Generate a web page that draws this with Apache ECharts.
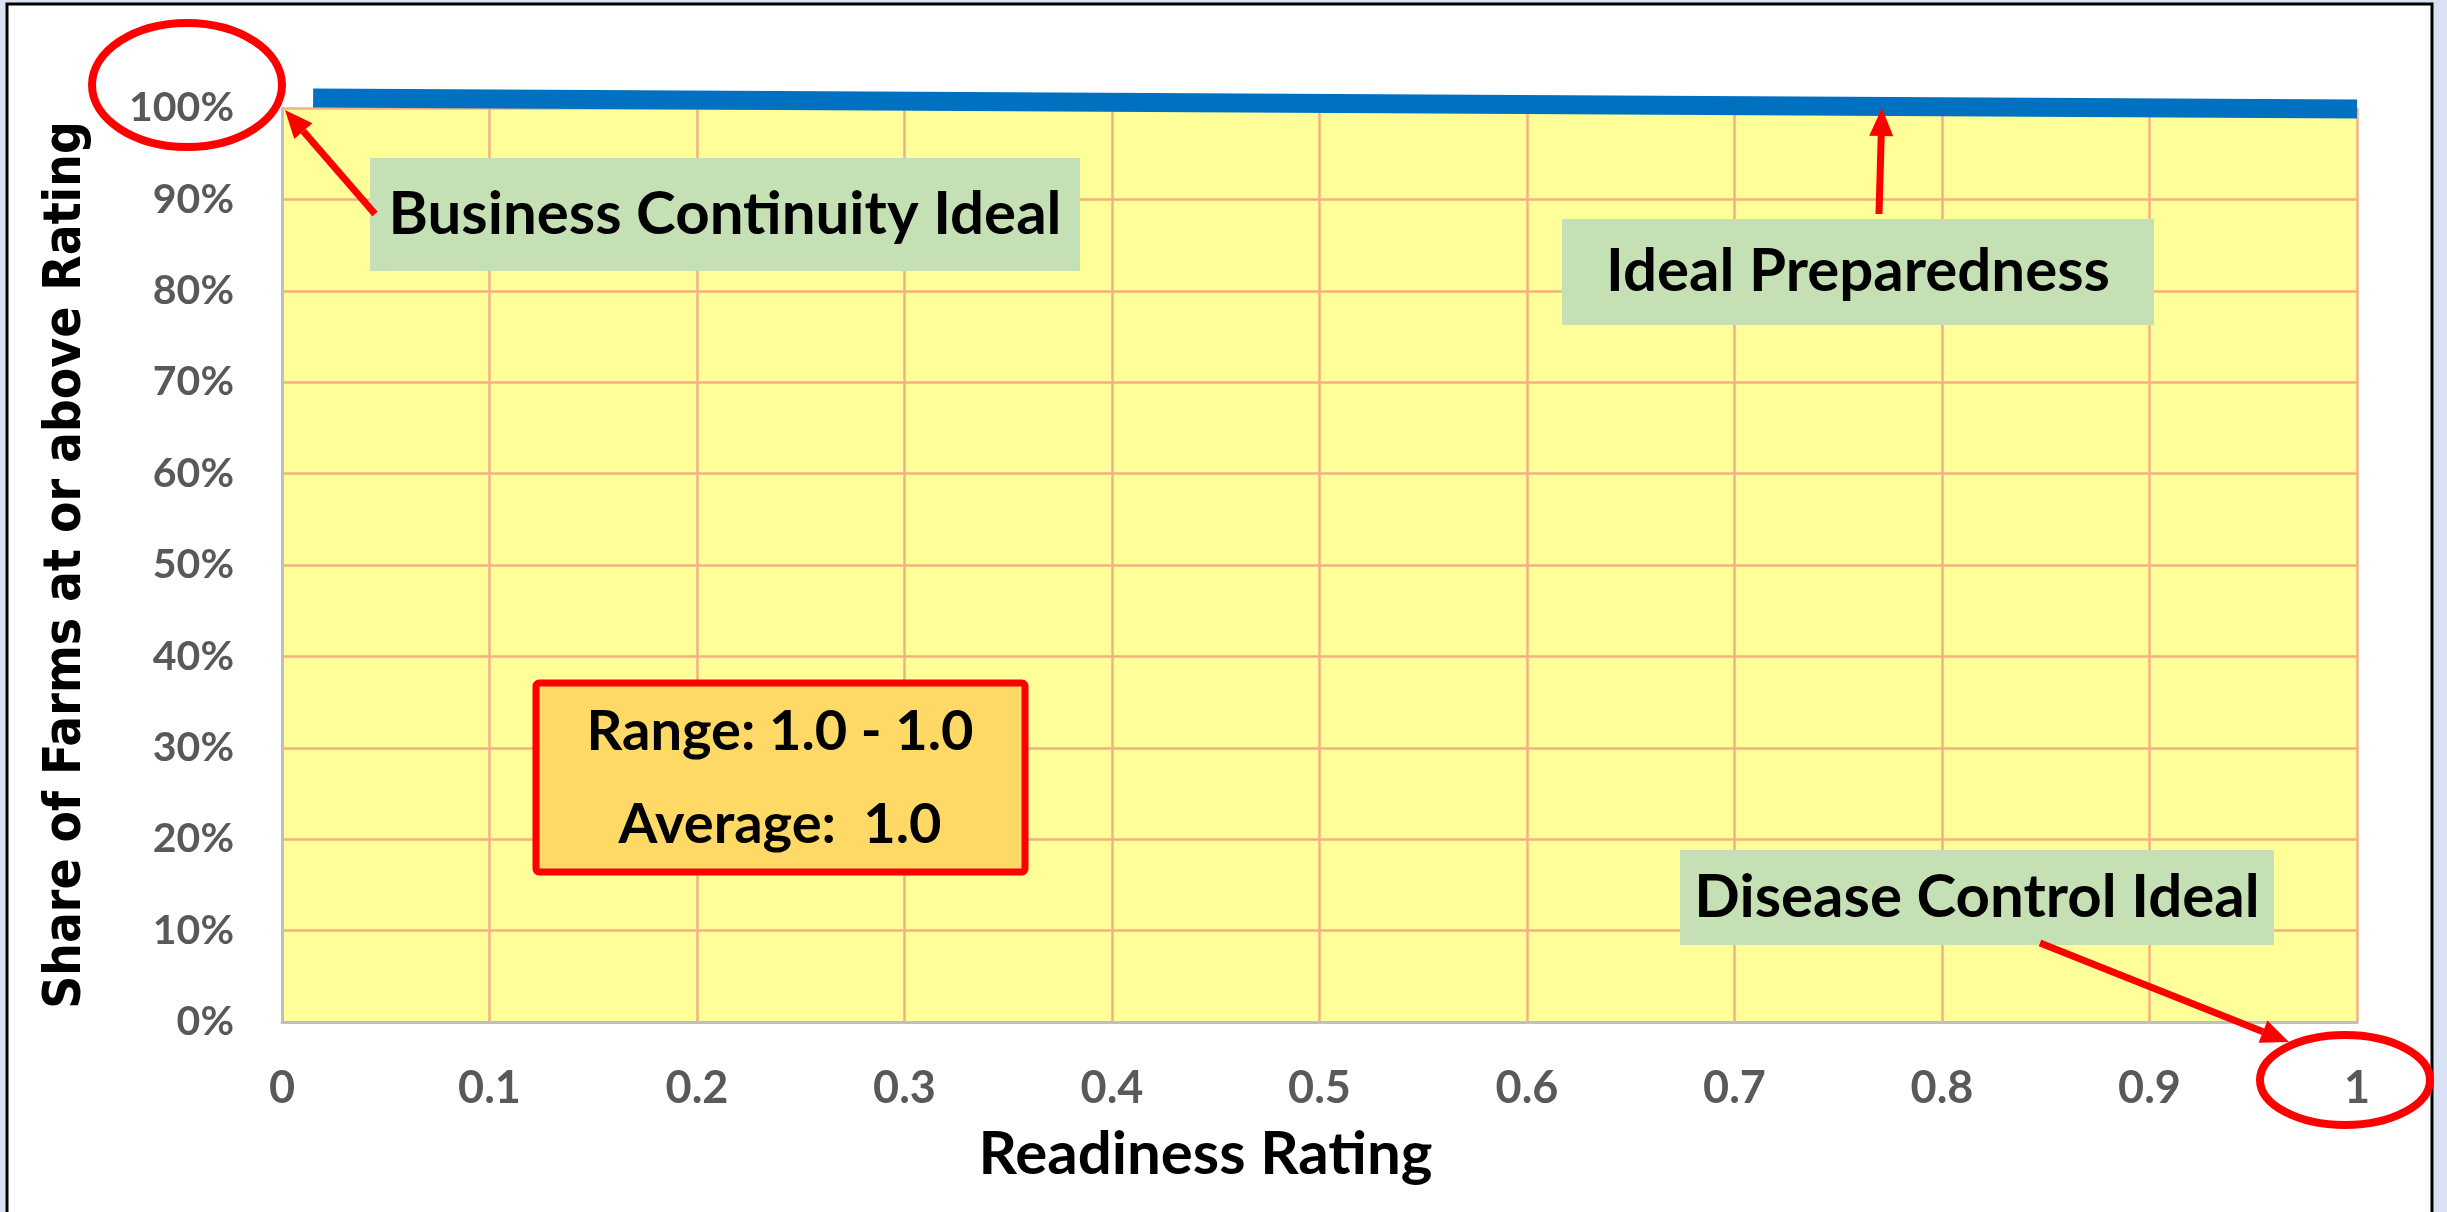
<!DOCTYPE html>
<html>
<head>
<meta charset="utf-8">
<script src="https://cdn.jsdelivr.net/npm/echarts@6/dist/echarts.min.js"></script>
<style>
  html, body { margin: 0; padding: 0; background: #dae3f3; }
  #chart { width: 2447px; height: 1212px; }
</style>
</head>
<body>
<div id="chart"></div>
<script>
// readiness curve (x = rating, y = share of farms at or above rating)
const ratingX = [0.015, 1.0];
const shareY = [1.011, 0.999];

const xAxisTitle = 'Readiness Rating';
const yAxisTitle = 'Share of Farms at or above Rating';
const statLines = ['Range: 1.0 - 1.0', 'Average:  1.0'];

const RED = '#ff0000';
const GREEN_BOX = '#c5e0b4';
const TEXT_FONT = 'bold 60px Lato';

const chart = echarts.init(document.getElementById('chart'));

const arrow = (x1, y1, x2, y2) => {
  const a = Math.atan2(y2 - y1, x2 - x1);
  const len = 28;
  const half = 12;
  const bx = x2 - len * Math.cos(a);
  const by = y2 - len * Math.sin(a);
  return [
    { type: 'line', z: 100, shape: { x1, y1, x2: bx, y2: by }, style: { stroke: RED, lineWidth: 7 } },
    {
      type: 'polygon', z: 100,
      shape: { points: [[x2, y2], [bx - half * Math.sin(a), by + half * Math.cos(a)], [bx + half * Math.sin(a), by - half * Math.cos(a)]] },
      style: { fill: RED },
    },
  ];
};

const labelBox = (x, y, w, h, text) => [
  { type: 'rect', z: 90, shape: { x, y, width: w, height: h }, style: { fill: GREEN_BOX } },
  {
    type: 'text', z: 95, x: x + w / 2, y: y + h / 2,
    style: { text, font: TEXT_FONT, fill: '#000', align: 'center', verticalAlign: 'middle', textAlign: 'center', textVerticalAlign: 'middle' },
  },
];

const centerText = (cx, cy, text) => ({
  type: 'text', z: 95, x: cx, y: cy,
  style: { text, font: 'bold 56px Lato', fill: '#000', align: 'center', verticalAlign: 'middle', textAlign: 'center', textVerticalAlign: 'middle' },
});

chart.setOption({
  backgroundColor: '#dae3f3',
  animation: false,
  grid: {
    left: 282,
    right: 90,
    top: 108,
    bottom: 190,
    show: true,
    backgroundColor: '#ffff99',
    borderWidth: 0,
    outerBoundsMode: 'none',
  },
  xAxis: {
    type: 'value',
    min: 0,
    max: 1,
    interval: 0.1,
    name: xAxisTitle,
    nameLocation: 'middle',
    nameGap: 103,
    nameTextStyle: { fontFamily: 'Lato', fontWeight: 'bold', fontSize: 60, color: '#000', padding: [0, 228, 0, 0] },
    axisLine: { show: true, lineStyle: { color: '#bfbfbf', width: 3 } },
    axisTick: { show: false },
    axisLabel: { margin: 44, fontFamily: 'Lato', fontWeight: 'bold', fontSize: 45, color: '#595959' },
    splitLine: { show: true, lineStyle: { color: '#f4b183', width: 2.5 } },
  },
  yAxis: {
    type: 'value',
    min: 0,
    max: 1,
    interval: 0.1,
    name: yAxisTitle,
    nameLocation: 'middle',
    nameRotate: 90,
    nameGap: 190,
    nameTextStyle: { fontFamily: "'DejaVu Sans Condensed', 'DejaVu Sans'", fontWeight: 'bold', fontSize: 51, color: '#000' },
    axisLine: { show: true, lineStyle: { color: '#bfbfbf', width: 3 } },
    axisTick: { show: false },
    axisLabel: {
      margin: 48, fontFamily: 'Lato', fontWeight: 'bold', fontSize: 41, color: '#595959',
      formatter: (v) => Math.round(v * 100) + '%',
    },
    splitLine: { show: true, lineStyle: { color: '#f4b183', width: 2.5 } },
  },
  series: [
    {
      name: 'Ideal Preparedness',
      type: 'line',
      data: ratingX.map((x, i) => [x, shareY[i]]),
      showSymbol: false,
      symbol: 'none',
      clip: false,
      lineStyle: { color: '#0070c0', width: 19 },
      z: 5,
    },
  ],
  graphic: [
    // outer frame
    { type: 'rect', z: -10, shape: { x: 7, y: 4, width: 2425, height: 1240 }, style: { fill: '#fff', stroke: '#000', lineWidth: 3 } },
    ...labelBox(370, 158, 710, 113, 'Business Continuity Ideal'),
    ...labelBox(1562, 219, 592, 106, 'Ideal Preparedness'),
    ...labelBox(1680, 850, 594, 95, 'Disease Control Ideal'),
    { type: 'rect', z: 90, shape: { x: 536, y: 683, width: 489, height: 189, r: 3 }, style: { fill: '#ffd966', stroke: RED, lineWidth: 7 } },
    centerText(780, 732, statLines[0]),
    centerText(780, 825, statLines[1]),
    ...arrow(375, 214, 285, 110),
    ...arrow(1879, 214, 1882, 108),
    ...arrow(2040, 943, 2289, 1042),
    { type: 'ellipse', z: 100, shape: { cx: 187, cy: 85, rx: 95, ry: 62 }, style: { fill: 'none', stroke: RED, lineWidth: 8 } },
    { type: 'ellipse', z: 100, shape: { cx: 2345, cy: 1080, rx: 85, ry: 45 }, style: { fill: 'none', stroke: RED, lineWidth: 8 } },
  ],
});

window.addEventListener('resize', () => chart.resize());
</script>
</body>
</html>
